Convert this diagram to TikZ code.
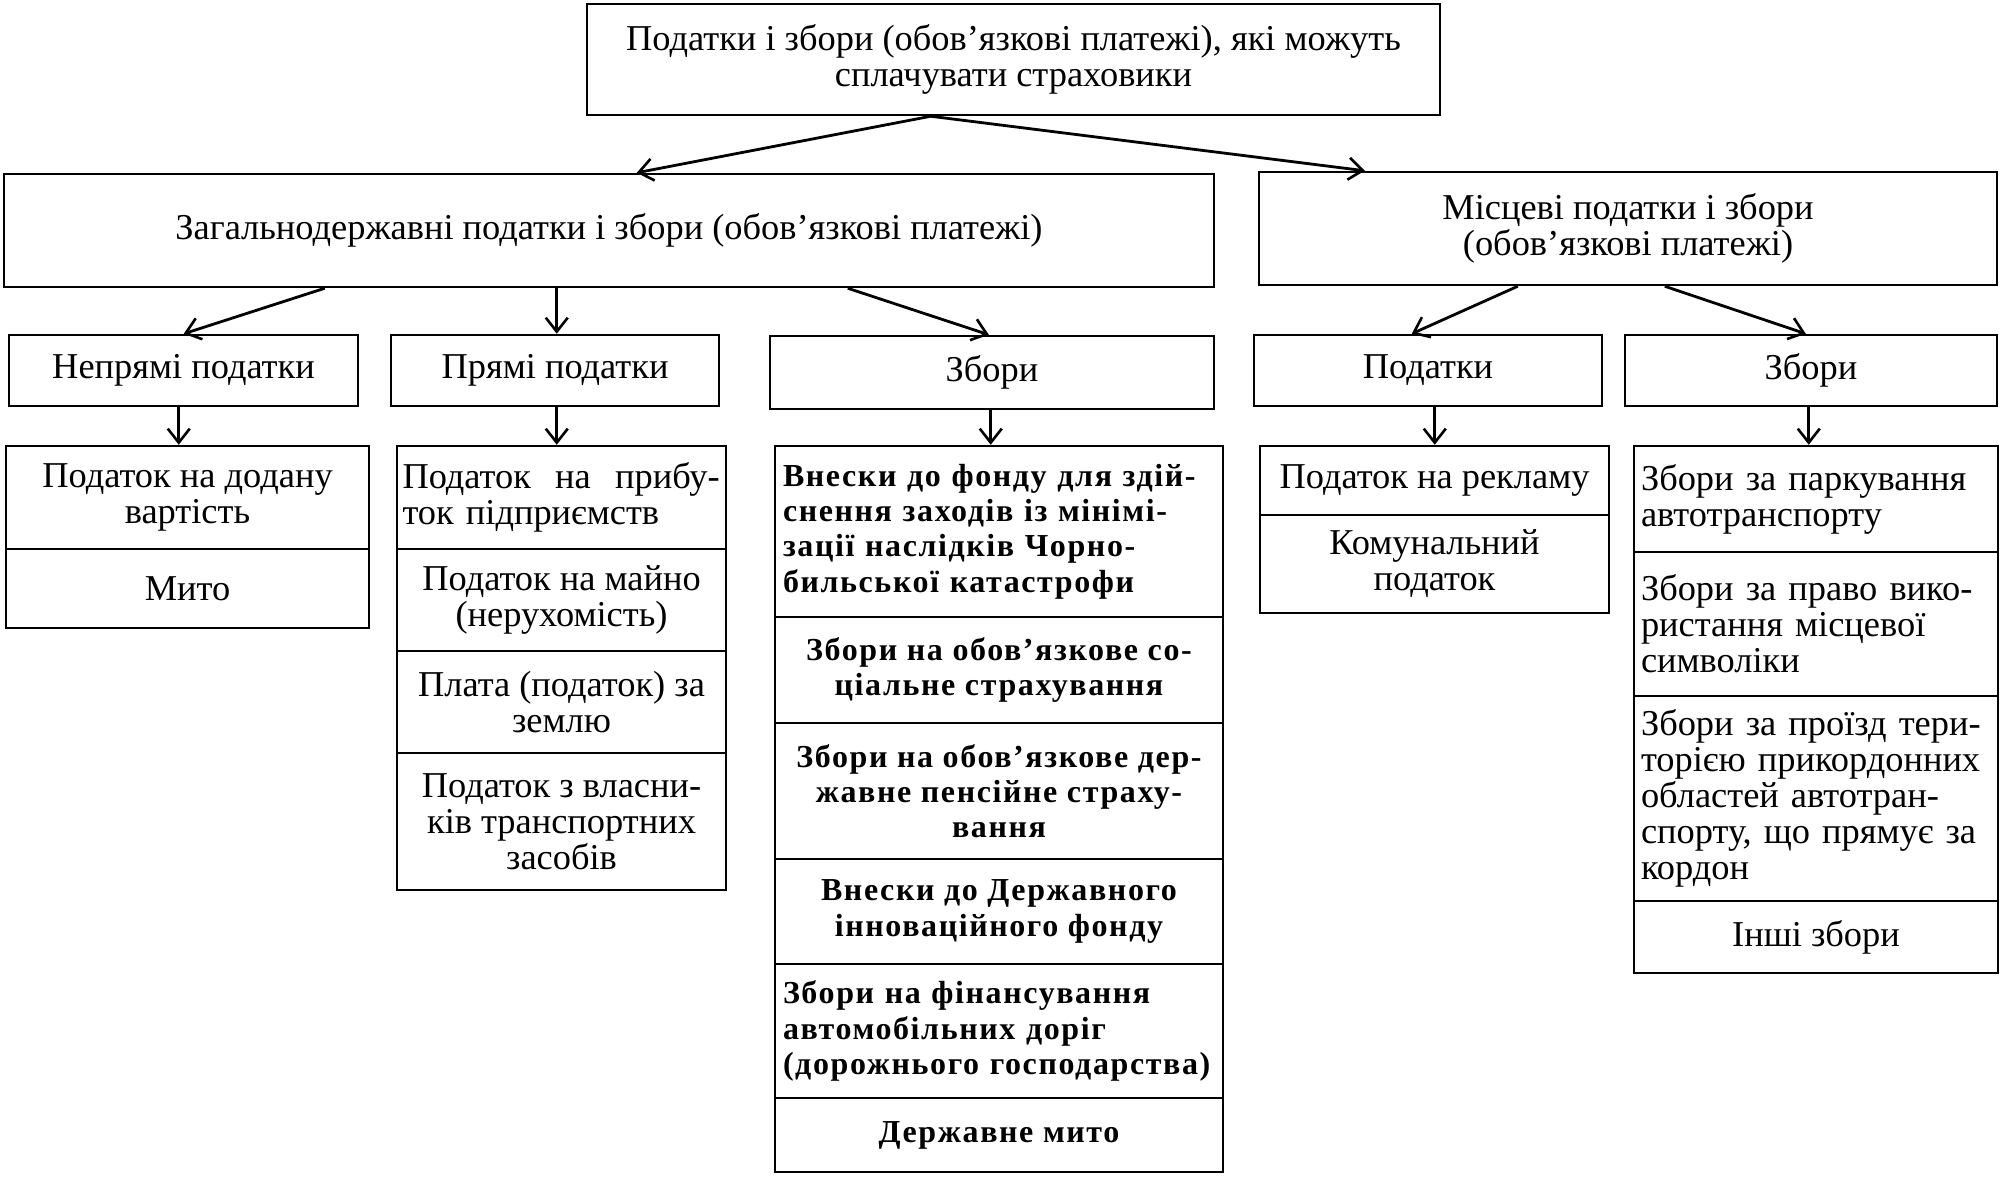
\documentclass[tikz,border=0pt]{standalone}
\usepackage{fontspec}
\setmainfont{Liberation Serif}
\newfontfamily\bsp[LetterSpace=5]{Liberation Serif}
\usetikzlibrary{arrows.meta}
\tikzset{
  box/.style={draw, line width=1.25pt, inner sep=2pt, align=center,
    font=\fontsize{18.2}{18}\selectfont},
  bbox/.style={box, font=\bsp\bfseries\fontsize{16}{17.6}\selectfont},
  arr/.style={line width=1.4pt, -{Straight Barb[length=7pt,width=11pt,line width=1.3pt]}},
  lft/.style={align=left, text width=#1}
}
\newcommand\placebox[7][]{%
  \node[box,#1,minimum width={(#5-#3)*0.5pt},minimum height={(#6-#4)*0.5pt}]
    (#2) at ({(#3+#5)/2},{(#4+#6)/2}) {#7};}
\begin{document}
\begin{tikzpicture}[x=0.5pt,y=-0.5pt]
\useasboundingbox[fill=white] (0,0) rectangle (2002,1179);
% top levels
\placebox{top}{587}{4}{1440}{115}{Податки і збори (обов’язкові платежі), які можуть\\сплачувати страховики}
\placebox{zag}{4}{174}{1214}{287}{Загальнодержавні податки і збори (обов’язкові платежі)}
\placebox{mis}{1259}{172}{1997}{285}{Місцеві податки і збори\\(обов’язкові платежі)}
\placebox{nep}{9}{335}{358}{406}{Непрямі податки}
\placebox{pry}{391}{335}{719}{406}{Прямі податки}
\placebox{zbo}{770}{336}{1214}{409}{Збори}
\placebox{pod}{1254}{335}{1602}{406}{Податки}
\placebox{zbm}{1625}{335}{1997}{406}{Збори}
% indirect taxes list
\placebox{nl1}{6}{446}{369}{549}{Податок на додану\\вартість}
\placebox{nl2}{6}{549}{369}{628}{Мито}
% direct taxes list
\placebox[lft=159pt]{pl1}{397}{446}{726}{549}{Податок~ на~ прибу-\\ток підприємств}
\placebox{pl2}{397}{549}{726}{651}{Податок на майно\\(нерухомість)}
\placebox{pl3}{397}{651}{726}{753}{Плата (податок) за\\землю}
\placebox{pl4}{397}{753}{726}{890}{Податок з власни-\\ків транспортних\\засобів}
% state fees list
\placebox[bbox,lft=216pt]{zl1}{775}{446}{1223}{617}{Внески до фонду для здій-\\снення заходів із мінімі-\\зації наслідків Чорно-\\бильської катастрофи}
\placebox[bbox]{zl2}{775}{617}{1223}{723}{Збори на обов’язкове со-\\ціальне страхування}
\placebox[bbox]{zl3}{775}{723}{1223}{859}{Збори на обов’язкове дер-\\жавне пенсійне страху-\\вання}
\placebox[bbox]{zl4}{775}{859}{1223}{964}{Внески до Державного\\інноваційного фонду}
\placebox[bbox,lft=216pt]{zl5}{775}{964}{1223}{1098}{Збори на фінансування\\автомобільних доріг\\(дорожнього господарства)}
\placebox[bbox]{zl6}{775}{1098}{1223}{1172}{Державне мито}
% local taxes list
\placebox{ql1}{1260}{446}{1609}{515}{Податок на рекламу}
\placebox{ql2}{1260}{515}{1609}{613}{Комунальний\\податок}
% local fees list
\placebox[lft=175pt]{sl1}{1634}{446}{1998}{552}{Збори за паркування\\автотранспорту}
\placebox[lft=175pt]{sl2}{1634}{552}{1998}{696}{Збори за право вико-\\ристання місцевої\\символіки}
\placebox[lft=175pt]{sl3}{1634}{696}{1998}{901}{Збори за проїзд тери-\\торією прикордонних\\областей автотран-\\спорту, що прямує за\\кордон}
\placebox{sl4}{1634}{901}{1998}{973}{Інші збори}
% arrows
\draw[arr] ([xshift=172.5pt]top.south west) -- ([xshift=317pt]zag.north west);
\draw[arr] ([xshift=172.5pt]top.south west) -- ([xshift=53.5pt]mis.north west);
\draw[arr] ([xshift=161pt]zag.south west) -- ([xshift=88pt]nep.north west);
\draw[arr] ([xshift=277pt]zag.south west) -- ([xshift=83.5pt]pry.north west);
\draw[arr] ([xshift=422.5pt]zag.south west) -- ([xshift=110pt]zbo.north west);
\draw[arr] ([xshift=130pt]mis.south west) -- ([xshift=79.5pt]pod.north west);
\draw[arr] ([xshift=203.5pt]mis.south west) -- ([xshift=91pt]zbm.north west);
\draw[arr] ([xshift=85.5pt]nep.south west) -- ([xshift=87pt]nl1.north west);
\draw[arr] ([xshift=83.5pt]pry.south west) -- ([xshift=80.5pt]pl1.north west);
\draw[arr] ([xshift=111pt]zbo.south west) -- ([xshift=108.5pt]zl1.north west);
\draw[arr] ([xshift=91pt]pod.south west) -- ([xshift=88pt]ql1.north west);
\draw[arr] ([xshift=92.5pt]zbm.south west) -- ([xshift=88pt]sl1.north west);
\end{tikzpicture}
\end{document}
